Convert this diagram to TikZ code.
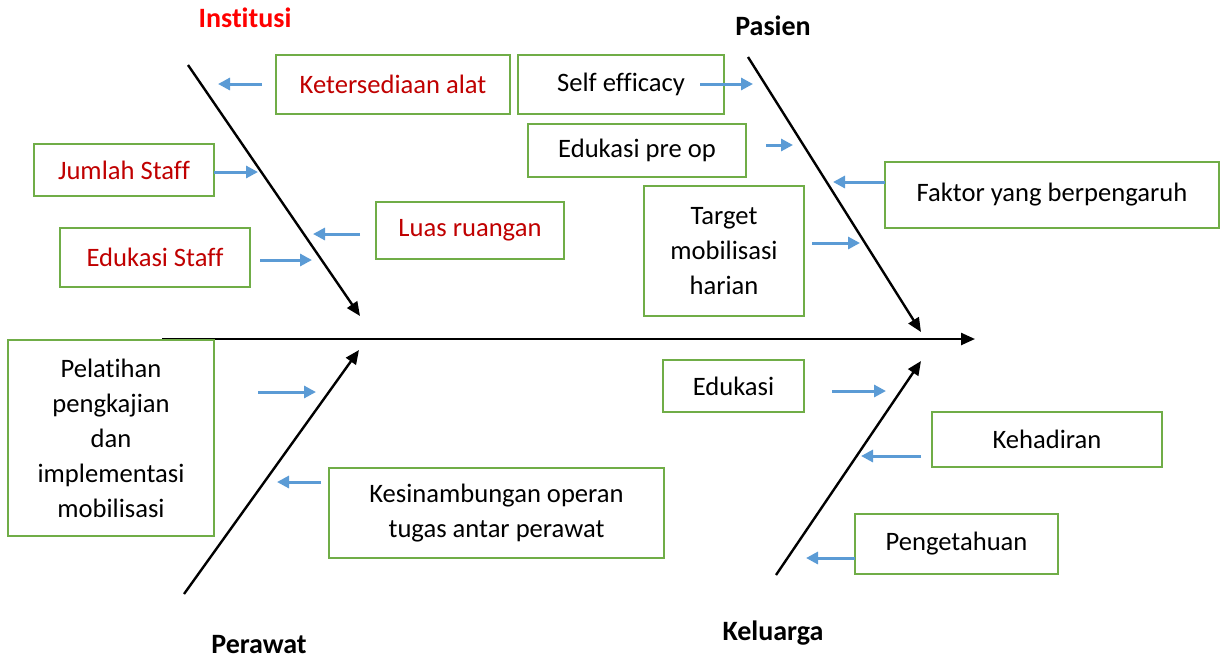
\documentclass[tikz,border=0pt]{standalone}
\usepackage{fontspec}
\setmainfont{Carlito}[Ligatures=NoCommon]
\usetikzlibrary{arrows.meta}
\definecolor{boxgreen}{HTML}{70AD47}
\definecolor{arrblue}{HTML}{5B9BD5}
\definecolor{txtred}{HTML}{C00000}
\definecolor{titlered}{HTML}{FF0000}
\tikzset{
  cbox/.style={draw=boxgreen, line width=1.2pt, fill=white, inner sep=0pt, align=center,
    font=\fontsize{13.3pt}{17.5pt}\selectfont},
  redtxt/.style={text=txtred},
  bone/.style={draw=black, line width=1.2pt, -{Triangle[length=7pt,width=6pt]}},
  cause/.style={draw=arrblue, line width=1.5pt, -{Triangle[length=6pt,width=6pt]}},
  ttl/.style={font=\fontsize{14pt}{16pt}\selectfont\bfseries, inner sep=0pt}
}
\begin{document}
\begin{tikzpicture}[x=0.5pt,y=-0.5pt]
\useasboundingbox (0,0) rectangle (1220,660);
% titles
\node[ttl, text=titlered] (tInst) at (245,18) {Institusi};
\node[ttl] (tPas) at (773,26) {Pasien};
\node[ttl] (tPer) at (259,645) {Perawat};
\node[ttl] (tKel) at (773,633) {Keluarga};
% spine and bones
\coordinate (sp0) at (162,339); \coordinate (sp1) at (975,339);
\coordinate (b1a) at (188,65);  \coordinate (b1b) at (360,316);
\coordinate (b2a) at (748,57);  \coordinate (b2b) at (921,332);
\coordinate (b3a) at (184,594); \coordinate (b3b) at (359,350);
\coordinate (b4a) at (776,575); \coordinate (b4b) at (921,361);
\draw[bone] (sp0) -- (sp1);
\draw[bone] (b1a) -- (b1b);
\draw[bone] (b2a) -- (b2b);
\draw[bone] (b3a) -- (b3b);
\draw[bone] (b4a) -- (b4b);
% boxes
\node[cbox, redtxt, minimum width=117pt, minimum height=29.5pt] (ket) at (393,84.5) {Ketersediaan alat};
\node[cbox, minimum width=103pt, minimum height=29.5pt] (self) at (621,84.5) {Self efficacy};
\node[cbox, minimum width=109pt, minimum height=26.5pt] (edupre) at (637,150.5) {Edukasi pre op};
\node[cbox, minimum width=167pt, minimum height=33pt] (faktor) at (1052,195) {Faktor yang berpengaruh};
\node[cbox, minimum width=80pt, minimum height=65pt] (target) at (724,251) {Target\\mobilisasi\\harian};
\node[cbox, redtxt, minimum width=90pt, minimum height=26pt] (jumlah) at (124,170) {Jumlah Staff};
\node[cbox, redtxt, minimum width=94pt, minimum height=28.5pt] (luas) at (470,230.5) {Luas ruangan};
\node[cbox, redtxt, minimum width=95pt, minimum height=29.5pt] (edustaff) at (155,257.5) {Edukasi Staff};
\node[cbox, minimum width=103pt, minimum height=98pt] (pelatihan) at (111,438) {Pelatihan\\pengkajian\\dan\\implementasi\\mobilisasi};
\node[cbox, minimum width=167.5pt, minimum height=45pt] (kesin) at (496.5,513) {Kesinambungan operan\\tugas antar perawat};
\node[cbox, minimum width=70.5pt, minimum height=26pt] (edukasi) at (733.5,386) {Edukasi};
\node[cbox, minimum width=115pt, minimum height=27.5pt] (kehadiran) at (1047,439.5) {Kehadiran};
\node[cbox, minimum width=101.5pt, minimum height=30pt] (pengetahuan) at (956.5,544) {Pengetahuan};
% cause arrows
\coordinate (a1s) at (262,84);  \coordinate (a1e) at (218,84);
\coordinate (a2s) at (214,172); \coordinate (a2e) at (258,172);
\coordinate (a3s) at (360,234); \coordinate (a3e) at (313,234);
\coordinate (a4s) at (260,260); \coordinate (a4e) at (312,260);
\coordinate (a5s) at (700,84);  \coordinate (a5e) at (753,84);
\coordinate (a6s) at (766,145); \coordinate (a6e) at (793,145);
\coordinate (a7s) at (885,182); \coordinate (a7e) at (833,182);
\coordinate (a8s) at (812,243); \coordinate (a8e) at (860,243);
\coordinate (a9s) at (258,392); \coordinate (a9e) at (316,392);
\coordinate (a10s) at (321,482); \coordinate (a10e) at (277,482);
\coordinate (a11s) at (832,391); \coordinate (a11e) at (886,391);
\coordinate (a12s) at (921,456); \coordinate (a12e) at (861,456);
\coordinate (a13s) at (855,558); \coordinate (a13e) at (806,558);
\foreach \i in {1,...,13} { \draw[cause] (a\i s) -- (a\i e); }
\end{tikzpicture}
\end{document}
